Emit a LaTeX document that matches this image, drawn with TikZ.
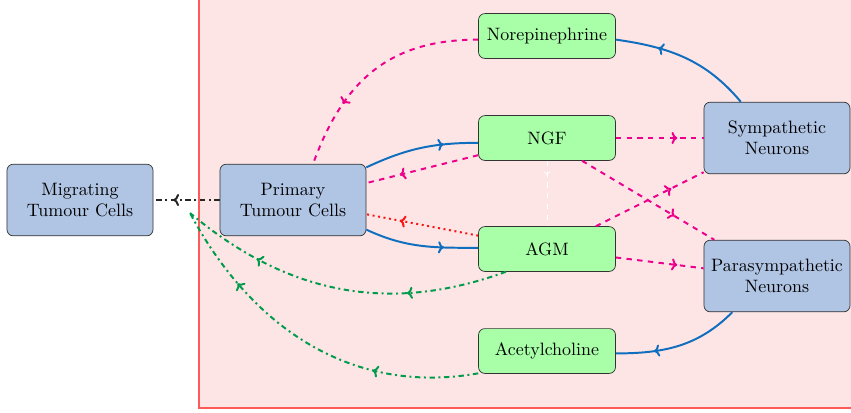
\documentclass[tikz,border=0pt]{standalone}
\usetikzlibrary{decorations.markings,arrows.meta}
\definecolor{nodegreen}{RGB}{168,255,168}
\definecolor{nodeblue}{RGB}{176,196,228}
\definecolor{bgpink}{RGB}{253,229,229}
\definecolor{framered}{RGB}{255,90,90}
\definecolor{linkblue}{RGB}{16,110,190}
\definecolor{linkpink}{RGB}{236,0,140}
\definecolor{linkred}{RGB}{250,20,20}
\definecolor{linkgreen}{RGB}{0,155,75}
\tikzset{
  cellbox/.style={draw=black!80, fill=nodeblue, rounded corners=3.5pt,
    minimum width=81.5pt, minimum height=40pt, align=center, inner sep=2pt},
  molbox/.style={draw=black!80, fill=nodegreen, rounded corners=3.5pt,
    minimum width=76.4pt, minimum height=25pt, align=center, inner sep=2pt},
  midarrow/.style={postaction={decorate},
    decoration={markings, mark=at position #1 with {\arrow{To[scale=0.8]}}}},
  midarrow/.default=0.7,
  twoarrows/.style={postaction={decorate},
    decoration={markings, mark=at position 0.3 with {\arrow{To[scale=0.8]}},
      mark=at position 0.76 with {\arrow{To[scale=0.8]}}}},
  bluelink/.style={draw=linkblue, line width=1.1pt, midarrow},
  pinklink/.style={draw=linkpink, line width=1.1pt, dashed, midarrow},
  redlink/.style={draw=linkred, line width=1.1pt, dotted, midarrow},
  greenlink/.style={draw=linkgreen, line width=1.1pt, dash dot, twoarrows},
  blacklink/.style={draw=black!85, line width=1.1pt, dash dot, midarrow},
  whitelink/.style={draw=white, line width=0.4pt, dashed, midarrow=0.22},
}
\begin{document}
\begin{tikzpicture}[x=0.558pt, y=-0.558pt]
\clip (0,0) rectangle (851,412);
\fill[white] (0,0) rectangle (851,412);
\draw[framered, fill=bgpink, line width=0.8pt] (199,-5) rectangle (856,408);

\node[cellbox] (migr) at (80,200) {Migrating\\Tumour Cells};
\node[cellbox] (prim) at (293,200) {Primary\\Tumour Cells};
\node[molbox] (norepi) at (547,36) {Norepinephrine};
\node[molbox] (ngf) at (547,138) {NGF};
\node[molbox] (agm) at (547,249) {AGM};
\node[molbox] (acetyl) at (547,351) {Acetylcholine};
\node[cellbox] (symp) at (777,138) {Sympathetic\\Neurons};
\node[cellbox] (para) at (777,276) {Parasympathetic\\Neurons};
\coordinate (gend) at (190,213);

\draw[bluelink] (symp.135) to[out=130, in=-8] (norepi.-3);
\draw[bluelink] (para.-141) to[out=-135, in=0] (acetyl.-2);
\draw[bluelink] (prim.24) to[out=25, in=180] (ngf.184);
\draw[bluelink] (prim.-22) to[out=-25, in=180] (agm.179);

\draw[pinklink] (norepi.183) to[out=180, in=70, looseness=1.1] (prim.61);
\draw[pinklink] (ngf.194) -- (prim.13);
\draw[redlink] (agm.169) -- (prim.-11);
\draw[pinklink] (ngf.east) -- (symp.west);
\draw[pinklink] (ngf.-33) -- (para.150);
\draw[pinklink] (agm.25) -- (symp.205);
\draw[pinklink] (agm.-7) -- (para.174);
\draw[whitelink] (ngf.south) -- (agm.north);

\draw[blacklink] (prim.west) -- (migr.east);

\draw[greenlink] (agm.209) to[out=-160, in=-40] (gend);
\draw[greenlink] (acetyl.198) to[out=-170, in=-62] (gend);
\end{tikzpicture}
\end{document}
